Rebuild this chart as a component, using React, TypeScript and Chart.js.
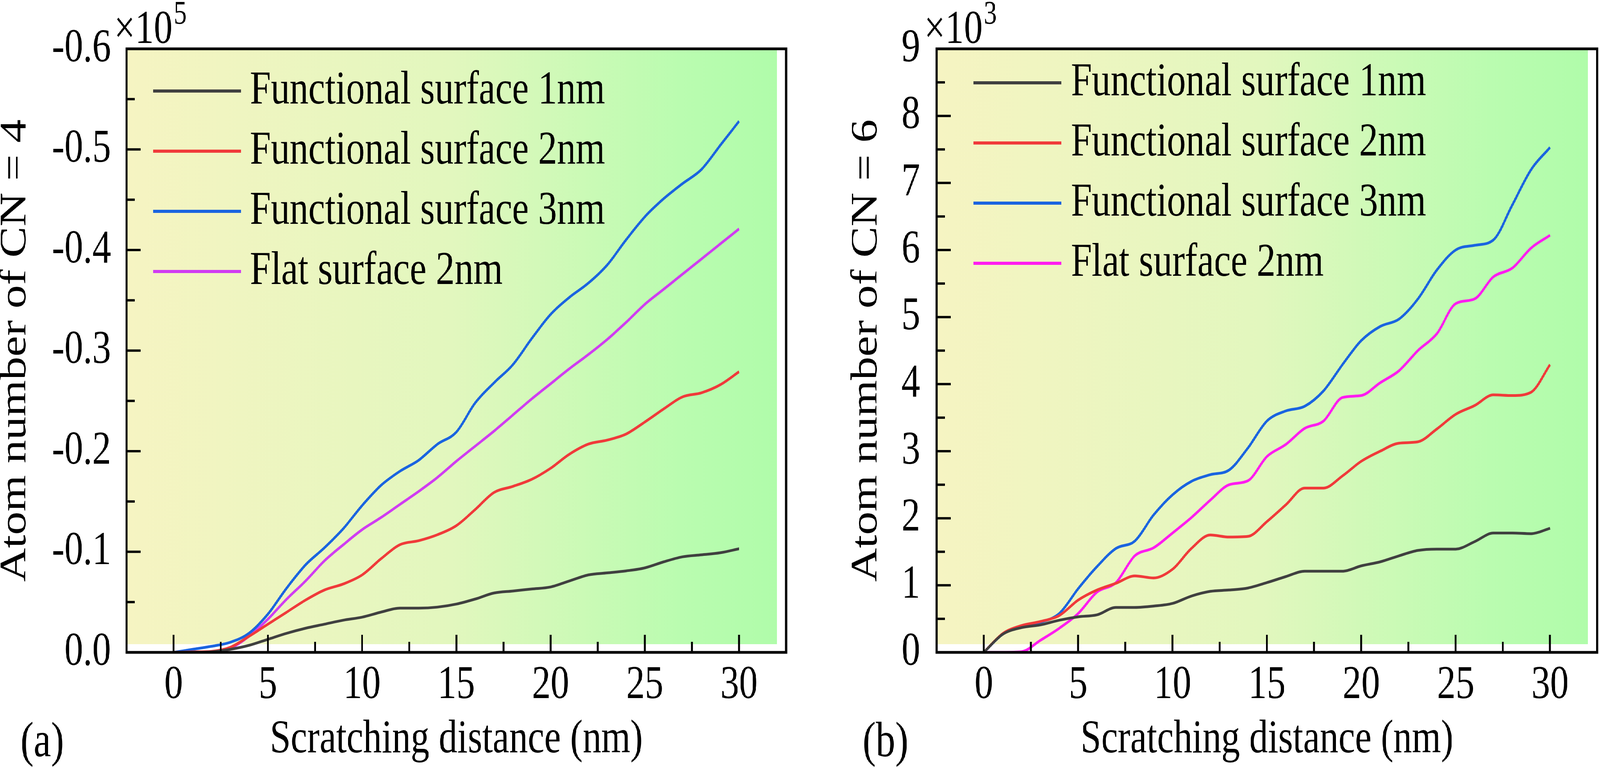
import { useEffect, useRef } from "react";
import { Chart, registerables } from "chart.js";

Chart.register(...registerables);

const FONT = '"Liberation Serif", "Times New Roman", serif';

// the figure is laid out at 5147x1966 and then fitted to the actual viewport
const DESIGN_W = 5147;
const DESIGN_H = 1966;

// scratching distance (nm)
const distance = [
  0, 1, 2, 3, 4, 5, 6, 7, 8, 9, 10, 11, 12, 13, 14, 15, 16, 17, 18, 19, 20, 21, 22, 23, 24, 25, 26, 27,
  28, 29, 30,
];
const xTicks = [0, 5, 10, 15, 20, 25, 30];
const seriesLabels = [
  "Functional surface 1nm",
  "Functional surface 2nm",
  "Functional surface 3nm",
  "Flat surface 2nm",
];

// (a) atom number of CN = 4, in units of 10^5
const cn4Func1 = [
  0, 0, -0.0005, -0.003, -0.007, -0.013, -0.019, -0.024, -0.028, -0.032, -0.035, -0.04, -0.044, -0.044,
  -0.045, -0.048, -0.053, -0.059, -0.061, -0.063, -0.065, -0.071, -0.077, -0.079, -0.081, -0.084, -0.09,
  -0.095, -0.097, -0.099, -0.103,
];
const cn4Func2 = [
  0, -0.0005, -0.001, -0.005, -0.016, -0.028, -0.04, -0.052, -0.062, -0.068, -0.077, -0.093, -0.107,
  -0.111, -0.117, -0.126, -0.142, -0.159, -0.165, -0.172, -0.183, -0.197, -0.207, -0.211, -0.217, -0.229,
  -0.242, -0.254, -0.258, -0.266, -0.279,
];
const cn4Func3 = [
  0, -0.003, -0.006, -0.01, -0.019, -0.038, -0.064, -0.087, -0.104, -0.123, -0.146, -0.166, -0.18,
  -0.191, -0.207, -0.219, -0.248, -0.268, -0.286, -0.312, -0.336, -0.353, -0.367, -0.385, -0.41, -0.433,
  -0.451, -0.466, -0.48, -0.504, -0.528,
];
const cn4Flat = [
  0, 0, -0.0005, -0.004, -0.016, -0.033, -0.053, -0.071, -0.091, -0.107, -0.122, -0.134, -0.147, -0.16,
  -0.174, -0.19, -0.205, -0.22, -0.236, -0.252, -0.267, -0.282, -0.296, -0.311, -0.328, -0.346, -0.361,
  -0.376, -0.391, -0.406, -0.421,
];
const cn4YTicks = [-0.6, -0.5, -0.4, -0.3, -0.2, -0.1, 0];

// (b) atom number of CN = 6, in units of 10^3
const cn6Func1 = [
  0, 0.27, 0.37, 0.41, 0.48, 0.53, 0.56, 0.67, 0.67, 0.69, 0.73, 0.84, 0.91, 0.93, 0.96, 1.04, 1.13, 1.21,
  1.21, 1.21, 1.29, 1.35, 1.44, 1.52, 1.54, 1.54, 1.65, 1.78, 1.78, 1.77, 1.85,
];
const cn6Func2 = [
  0, 0.28, 0.4, 0.46, 0.55, 0.78, 0.93, 1.03, 1.14, 1.11, 1.24, 1.55, 1.75, 1.72, 1.73, 1.95, 2.2, 2.45,
  2.45, 2.63, 2.85, 3.0, 3.12, 3.14, 3.33, 3.55, 3.68, 3.84, 3.83, 3.88, 4.29,
];
const cn6Func3 = [
  0, 0.27, 0.39, 0.45, 0.58, 0.95, 1.28, 1.55, 1.66, 2.05, 2.35, 2.55, 2.65, 2.72, 3.05, 3.45, 3.6, 3.67,
  3.9, 4.29, 4.65, 4.86, 4.97, 5.27, 5.7, 6.0, 6.07, 6.15, 6.67, 7.2, 7.53,
];
const cn6Flat = [
  0, 0, 0.01, 0.18, 0.36, 0.58, 0.9, 1.04, 1.44, 1.56, 1.78, 2.01, 2.27, 2.5, 2.56, 2.92, 3.1, 3.34, 3.45,
  3.8, 3.83, 4.02, 4.2, 4.5, 4.75, 5.2, 5.27, 5.6, 5.73, 6.03, 6.22,
];
const cn6YTicks = [0, 1, 2, 3, 4, 5, 6, 7, 8, 9];

interface PanelProps {
  series: number[][];
  colors: string[];
  yMin: number;
  yMax: number;
  reverse: boolean;
  yTicks: number[];
  yDecimals: number;
  yTitle: string;
  exponent: string;
  tag: string;
  left: number;
  width: number;
  yAxisWidth: number;
  padRight: number;
  titlePad: number;
  labelPad: number;
  legendTop: number;
  legendLineX: number;
  legendTextX: number;
  tagX: number;
}

const mids = (arr: number[]) => arr.slice(1).map((v, i) => (v + arr[i]) / 2);

const Panel = (p: PanelProps) => {
  const canvasRef = useRef<HTMLCanvasElement>(null);
  const chartInstance = useRef<Chart | null>(null);

  useEffect(() => {
    if (!canvasRef.current) return;
    if (chartInstance.current) chartInstance.current.destroy();

    const decor = {
      id: "decor",
      beforeDatasetsDraw(chart: any) {
        const { ctx, chartArea: a } = chart;
        const gw = a.right - 30 - a.left;
        const g = ctx.createLinearGradient(a.left, 0, a.left + gw, 0);
        g.addColorStop(0, "rgb(246,244,194)");
        g.addColorStop(0.5, "rgb(226,247,190)");
        g.addColorStop(0.85, "rgb(186,252,176)");
        g.addColorStop(1, "rgb(176,252,170)");
        ctx.save();
        ctx.fillStyle = g;
        ctx.fillRect(a.left, a.top, gw, a.bottom - 21 - a.top);
        ctx.restore();
      },
      afterDatasetsDraw(chart: any) {
        const { ctx, chartArea: a } = chart;
        const xs = chart.scales.x;
        const ys = chart.scales.y;
        ctx.save();
        ctx.strokeStyle = "#000";
        ctx.lineCap = "butt";
        const seg = (x1: number, y1: number, x2: number, y2: number) => {
          ctx.beginPath();
          ctx.moveTo(x1, y1);
          ctx.lineTo(x2, y2);
          ctx.stroke();
        };
        ctx.lineWidth = 6;
        xTicks.forEach((v) => {
          const x = xs.getPixelForValue(v);
          seg(x, a.bottom, x, a.bottom - 45);
        });
        mids(xTicks).forEach((v) => {
          const x = xs.getPixelForValue(v);
          seg(x, a.bottom, x, a.bottom - 27);
        });
        p.yTicks.forEach((v) => {
          const y = ys.getPixelForValue(v);
          seg(a.left, y, a.left + 45, y);
        });
        mids(p.yTicks).forEach((v) => {
          const y = ys.getPixelForValue(v);
          seg(a.left, y, a.left + 27, y);
        });
        ctx.lineWidth = 7;
        ctx.strokeRect(a.left, a.top, a.right - a.left, a.bottom - a.top);

        // legend
        ctx.font = `121px ${FONT}`;
        ctx.textBaseline = "middle";
        ctx.textAlign = "left";
        chart.data.datasets.forEach((ds: any, i: number) => {
          const y = a.top + p.legendTop + i * 154;
          ctx.strokeStyle = ds.borderColor;
          ctx.lineWidth = 8;
          seg(a.left + p.legendLineX, y, a.left + p.legendLineX + 282, y);
          ctx.fillStyle = "#000";
          ctx.fillText(ds.label, a.left + p.legendTextX, y);
        });

        // axis multiplier
        ctx.font = `120px ${FONT}`;
        ctx.textBaseline = "alphabetic";
        ctx.fillStyle = "#000";
        const x0 = a.left - 40;
        ctx.fillText("×10", x0, a.top - 15);
        const w = ctx.measureText("×10").width;
        ctx.font = `84px ${FONT}`;
        ctx.fillText(p.exponent, x0 + w + 4, a.top - 64);

        // panel tag
        ctx.font = `126px ${FONT}`;
        ctx.fillText(p.tag, a.left - p.tagX, a.bottom + 266);
        ctx.restore();
      },
    };

    chartInstance.current = new Chart(canvasRef.current, {
      type: "line",
      data: {
        datasets: p.series.map((s, i) => ({
          label: seriesLabels[i],
          data: distance.map((x, j) => ({ x, y: s[j] })),
          borderColor: p.colors[i],
          borderWidth: 7,
          pointRadius: 0,
          fill: false,
          cubicInterpolationMode: "monotone",
        })),
      },
      options: {
        animation: false,
        responsive: true,
        maintainAspectRatio: false,
        layout: { padding: { top: 125, right: p.padRight, left: 0, bottom: 0 } },
        plugins: { legend: { display: false }, tooltip: { enabled: false } },
        scales: {
          x: {
            type: "linear",
            min: -2.5,
            max: 32.5,
            grid: { display: false, drawTicks: false },
            border: { display: false },
            afterBuildTicks: (axis: any) => {
              axis.ticks = xTicks.map((value) => ({ value }));
            },
            afterFit: (axis: any) => {
              axis.height = 296;
            },
            ticks: {
              padding: 13,
              color: "#000",
              font: { family: FONT, size: 120 },
              callback: (v: any) => String(v),
            },
            title: {
              display: true,
              text: "Scratching distance (nm)",
              color: "#000",
              font: { family: FONT, size: 120 },
              padding: { top: 0, bottom: 0 },
            },
          },
          y: {
            type: "linear",
            min: p.yMin,
            max: p.yMax,
            reverse: p.reverse,
            grid: { display: false, drawTicks: false },
            border: { display: false },
            afterBuildTicks: (axis: any) => {
              axis.ticks = p.yTicks.map((value) => ({ value }));
            },
            afterFit: (axis: any) => {
              axis.width = p.yAxisWidth;
            },
            ticks: {
              padding: p.labelPad,
              color: "#000",
              font: { family: FONT, size: 120 },
              callback: (v: any) => Number(v).toFixed(p.yDecimals),
            },
            title: {
              display: true,
              text: p.yTitle,
              color: "#000",
              font: { family: FONT, size: 120 },
              padding: { top: p.titlePad, bottom: 0 },
            },
          },
        },
      },
      plugins: [decor],
    } as any);

    return () => {
      if (chartInstance.current) {
        chartInstance.current.destroy();
        chartInstance.current = null;
      }
    };
  }, []);

  return (
    <div style={{ position: "absolute", left: p.left, top: 0, width: p.width, height: DESIGN_H }}>
      <canvas ref={canvasRef} />
    </div>
  );
};

const App = () => {
  const sx = (window.innerWidth || DESIGN_W) / DESIGN_W;
  const sy = (window.innerHeight || DESIGN_H) / DESIGN_H;
  return (
    <div
      style={{
        position: "fixed",
        left: 0,
        top: 0,
        width: "100vw",
        height: "100vh",
        overflow: "hidden",
        background: "#fff",
      }}
    >
      <div
        style={{
          position: "absolute",
          left: 0,
          top: 0,
          width: DESIGN_W,
          height: DESIGN_H,
          transformOrigin: "0 0",
          transform: `scale(${sx}, ${sy})`,
        }}
      >
        <Panel
          series={[cn4Func1, cn4Func2, cn4Func3, cn4Flat]}
          colors={["#404040", "#f03a3a", "#1a64e0", "#d03cf2"]}
          yMin={-0.6}
          yMax={0}
          reverse={true}
          yTicks={cn4YTicks}
          yDecimals={1}
          yTitle="Atom number of CN = 4"
          exponent="5"
          tag="(a)"
          left={0}
          width={2600}
          yAxisWidth={407}
          padRight={71}
          titlePad={-22}
          labelPad={50}
          legendTop={108}
          legendLineX={86}
          legendTextX={397}
          tagX={341}
        />
        <Panel
          series={[cn6Func1, cn6Func2, cn6Func3, cn6Flat]}
          colors={["#404040", "#f03a3a", "#1a64e0", "#ff1cf0"]}
          yMin={0}
          yMax={9}
          reverse={false}
          yTicks={cn6YTicks}
          yDecimals={0}
          yTitle="Atom number of CN = 6"
          exponent="3"
          tag="(b)"
          left={2600}
          width={2547}
          yAxisWidth={413}
          padRight={9}
          titlePad={116}
          labelPad={53}
          legendTop={87}
          legendLineX={119}
          legendTextX={432}
          tagX={238}
        />
      </div>
    </div>
  );
};

export default App;
